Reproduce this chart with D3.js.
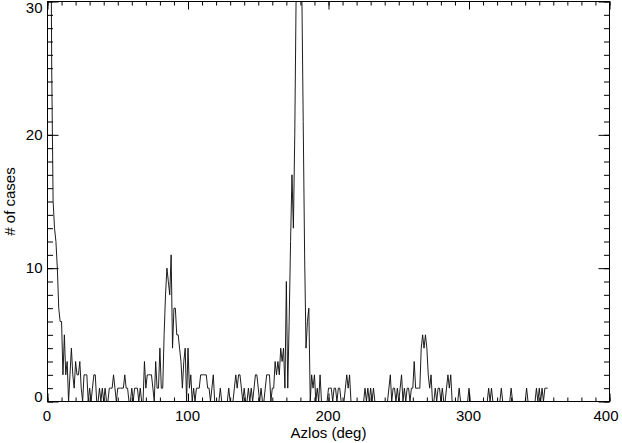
<!DOCTYPE html>
<html>
<head>
<meta charset="utf-8">
<script src="https://cdn.jsdelivr.net/npm/d3@7"></script>
<style>
  html, body { margin: 0; padding: 0; background: #fff; }
  svg { display: block; }
  text { font-family: "Liberation Sans", Arial, Helvetica, sans-serif; fill: #000; }
</style>
</head>
<body>
<script>
// ---- data ----
const binStart = 0;     // first bin (deg)
const binStep = 1;      // bin width (deg)
const counts = [
  80,60,45,25,15,13,12,10,7,6,6,
  2,5,2,3,0,2,4,2,1,3,
  2,2,3,1,0,2,2,2,0,1,
  0,1,2,2,0,0,1,0,1,0,
  1,0,0,1,1,1,2,1,0,1,
  1,1,1,1,2,1,1,0,0,1,
  0,1,1,1,0,1,0,0,3,1,
  2,2,2,2,1,0,3,1,1,4,
  1,1,5,8,10,9,8,11,4,7,
  7,5,5,4,3,1,3,4,0,4,
  1,2,0,1,0,1,1,1,2,2,
  2,2,2,1,1,0,1,2,0,0,
  0,0,1,0,0,0,0,0,1,0,
  0,0,1,2,1,2,2,1,0,1,
  0,0,1,0,1,0,1,2,2,1,
  0,1,0,0,1,2,2,2,0,1,
  1,3,2,3,2,4,3,4,1,9,
  1,6,12,17,13,20,31,80,90,70,
  31,21,11,4,6,7,0,2,1,2,
  0,1,0,2,0,0,0,0,0,1,
  1,1,0,1,1,0,1,1,0,0,
  0,1,2,1,2,0,0,0,0,0,
  0,0,0,0,0,1,0,1,0,1,
  0,1,0,0,0,0,0,0,0,0,
  0,0,1,2,0,1,1,0,1,0,
  1,2,0,1,0,1,1,0,1,1,
  3,1,1,1,1,4,5,4,5,4,
  2,1,2,0,0,1,0,1,1,0,
  1,0,0,1,2,1,2,0,0,0,
  0,0,1,0,0,0,0,0,0,1,
  0,0,0,0,0,0,0,0,0,0,
  0,0,0,1,0,1,0,0,0,0,
  0,0,1,0,0,0,0,0,0,1,
  0,0,0,0,0,0,0,0,0,0,
  1,0,0,0,0,0,0,1,0,1,
  0,1,0,1,1,1
];
const xDomain = [0, 400];
const yDomain = [0, 30];
const xMajorTicks = [0, 100, 200, 300, 400];
const xMinorTicks = d3.range(0, 401, 10);
const yMajorTicks = [0, 10, 20, 30];
const yMinorTicks = d3.range(0, 31, 1);
const xTitle = "Azlos (deg)";
const yTitle = "# of cases";

// ---- layout ----
const W = 622, H = 443;
const L = 47.5, R = 609.5, T = 1.5, B = 401.5;

const svg = d3.select("body").append("svg").attr("width", W).attr("height", H);

const x = d3.scaleLinear().domain(xDomain).range([L, R]);
const y = d3.scaleLinear().domain(yDomain).range([B, T]);

svg.append("defs").append("clipPath").attr("id", "plotclip")
  .append("rect").attr("x", L).attr("y", T).attr("width", R - L).attr("height", B - T);

// data line
const pts = counts.map((c, i) => ({ d: binStart + i * binStep, v: c }));
svg.append("path")
  .datum(pts)
  .attr("clip-path", "url(#plotclip)")
  .attr("fill", "none")
  .attr("stroke", "#111")
  .attr("stroke-width", 0.95)
  .attr("stroke-linejoin", "miter")
  .attr("d", d3.line().x(p => x(p.d)).y(p => y(p.v)));

function styleAxis(g) {
  g.select(".domain").remove();
  g.selectAll(".tick line").attr("stroke", "#000").attr("stroke-width", 1);
  g.selectAll(".tick text").style("font-size", "15px").attr("fill", "#000");
}

// bottom minor + major
svg.append("g").attr("transform", `translate(0,${B})`)
  .call(d3.axisBottom(x).tickValues(xMinorTicks).tickSizeInner(-4).tickSizeOuter(0).tickFormat(""))
  .call(styleAxis);
const gb = svg.append("g").attr("transform", `translate(0,${B})`)
  .call(d3.axisBottom(x).tickValues(xMajorTicks).tickSizeInner(-8).tickSizeOuter(0)
    .tickPadding(9).tickFormat(d3.format("d")))
  .call(styleAxis);
gb.selectAll(".tick text").attr("dx", d => d === 400 ? -4 : -1);

// top minor + major
svg.append("g").attr("transform", `translate(0,${T})`)
  .call(d3.axisTop(x).tickValues(xMinorTicks).tickSizeInner(-4).tickSizeOuter(0).tickFormat(""))
  .call(styleAxis);
svg.append("g").attr("transform", `translate(0,${T})`)
  .call(d3.axisTop(x).tickValues(xMajorTicks).tickSizeInner(-8).tickSizeOuter(0).tickFormat(""))
  .call(styleAxis);

// left minor + major
svg.append("g").attr("transform", `translate(${L},0)`)
  .call(d3.axisLeft(y).tickValues(yMinorTicks).tickSizeInner(-5.5).tickSizeOuter(0).tickFormat(""))
  .call(styleAxis);
const gl = svg.append("g").attr("transform", `translate(${L},0)`)
  .call(d3.axisLeft(y).tickValues(yMajorTicks).tickSizeInner(-11).tickSizeOuter(0)
    .tickPadding(5).tickFormat(d3.format("d")))
  .call(styleAxis);
gl.selectAll(".tick text").attr("y", d => d === 30 ? 6.5 : (d === 0 ? -5 : 0));

// right minor + major
svg.append("g").attr("transform", `translate(${R},0)`)
  .call(d3.axisRight(y).tickValues(yMinorTicks).tickSizeInner(-5.5).tickSizeOuter(0).tickFormat(""))
  .call(styleAxis);
svg.append("g").attr("transform", `translate(${R},0)`)
  .call(d3.axisRight(y).tickValues(yMajorTicks).tickSizeInner(-11).tickSizeOuter(0).tickFormat(""))
  .call(styleAxis);

// frame
svg.append("rect").attr("x", L).attr("y", T).attr("width", R - L).attr("height", B - T)
  .attr("fill", "none").attr("stroke", "#000").attr("stroke-width", 1);

// titles
svg.append("text").attr("x", (L + R) / 2).attr("y", 438)
  .attr("text-anchor", "middle").style("font-size", "15px").text(xTitle);
svg.append("text").attr("transform", `translate(15,${(T + B) / 2}) rotate(-90)`)
  .attr("text-anchor", "middle").style("font-size", "15px").text(yTitle);
</script>
</body>
</html>
